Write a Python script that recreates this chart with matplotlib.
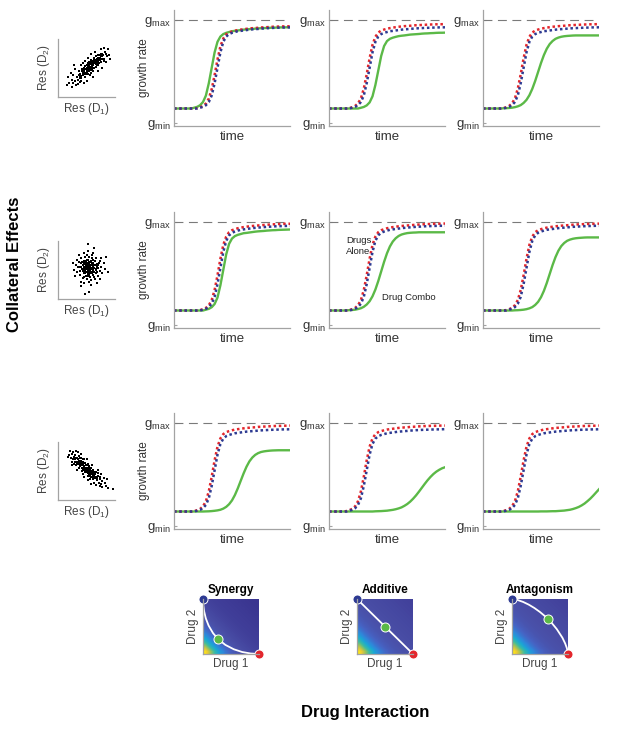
import numpy as np
import matplotlib.pyplot as plt
from matplotlib.colors import LinearSegmentedColormap

plt.rcParams['font.family'] = ['Liberation Sans', 'DejaVu Sans']
plt.rcParams['mathtext.fontset'] = 'custom'
plt.rcParams['mathtext.rm'] = 'Liberation Sans'
plt.rcParams['mathtext.it'] = 'Liberation Sans:italic'
plt.rcParams['mathtext.bf'] = 'Liberation Sans:bold'

# ---- growth curves, sampled at 41 equally spaced times (0..1) ----
time = np.arange(41) / 40

# row 1: positive collateral effects
r1c1_green = [0.14]*7 + [.148, .156, .172, .203, .266, .385, .535, .685, .788, .839, .863, .875, .883, .891, .894, .898, .902,
                         .906, .909, .911, .913, .916, .918, .920, .921, .923, .924, .925, .926, .927, .928, .928, .929, .930]
r1c1_blue = [0.14]*9 + [.148, .156, .172, .203, .266, .385, .535, .685, .788, .839, .863, .875, .883, .891, .894, .898, .902,
                        .906, .909, .911, .913, .916, .918, .920, .921, .923, .924, .925, .926, .927, .928, .928]
r1c1_red = [0.14]*8 + [.144, .152, .164, .188, .236, .328, .464, .616, .744, .820, .860, .878, .888, .896, .902, .906, .910,
                       .914, .918, .920, .922, .924, .927, .929, .930, .932, .934, .935, .936, .937, .938, .938, .939]
r1c2_green = [0.14]*11 + [.147, .155, .170, .199, .258, .369, .510, .651, .747, .795, .817, .828, .836, .843, .847, .850,
                          .854, .858, .860, .862, .864, .867, .869, .870, .872, .873, .875, .876, .876, .877]
r1_blue = [0.14]*8 + [.148, .156, .172, .203, .266, .385, .535, .685, .788, .839, .863, .875, .883, .891, .894, .898, .902,
                      .906, .909, .911, .913, .916, .918, .920, .921, .923, .924, .925, .926, .927, .928, .928, .929]
r1_red = [0.14]*7 + [.144, .152, .165, .189, .238, .333, .472, .628, .759, .837, .878, .897, .907, .915, .921, .926, .930,
                     .934, .937, .940, .942, .944, .947, .949, .950, .952, .953, .955, .956, .957, .958, .958, .959, .960]
r1c3_green = [0.14]*7 + [.142, .143, .145, .148, .153, .161, .173, .194, .224, .269, .331, .408, .495, .582, .659, .721,
                         .766, .796, .817, .829, .837, .842, .845, .847, .849] + [0.85]*9

# row 2: no collateral effects
r2c1_green = [0.14]*11 + [.148, .156, .172, .203, .266, .385, .535, .685, .788, .839, .863, .875, .883, .891, .894, .898,
                          .902, .906, .909, .911, .913, .916, .918, .920, .921, .923, .924, .925, .926, .927]
r2c1_blue = [0.14]*10 + [.148, .157, .173, .206, .272, .396, .553, .709, .817, .870, .895, .907, .916, .924, .928, .932,
                         .936, .940, .943, .945, .948, .950, .953, .954, .956, .958, .959, .960, .961, .962, .963]
r2c1_red = [0.14]*9 + [.144, .153, .165, .191, .241, .339, .482, .643, .778, .858, .901, .920, .930, .939, .945, .950,
                       .954, .958, .961, .964, .966, .968, .971, .973, .975, .977, .978, .980, .981, .982, .982, .983]
r2c2_green = [0.14]*6 + [.142, .143, .145, .148, .154, .162, .176, .198, .230, .278, .344, .427, .520, .613, .696, .762,
                         .810, .842, .864, .878, .886, .892, .895, .897, .898] + [0.90]*10
r2c2_blue = [0.14]*8 + [.148, .157, .173, .206, .272, .396, .553, .709, .817, .870, .895, .907, .916, .924, .928, .932,
                        .936, .940, .943, .945, .948, .950, .953, .954, .956, .958, .959, .960, .961, .962, .963, .963, .964]
r2c2_red = [0.14]*7 + [.144, .153, .165, .191, .241, .339, .482, .643, .778, .858, .901, .920, .930, .939, .945, .950,
                       .954, .958, .961, .964, .966, .968, .971, .973, .975, .977, .978, .980, .981, .982, .982, .983,
                       .984, .985]
r2c3_green = [0.14]*11 + [.142, .143, .145, .148, .153, .161, .173, .194, .224, .269, .331, .408, .495, .582, .659, .721,
                          .766, .796, .817, .829, .837, .842, .845, .847, .849] + [0.85]*5
r2c3_blue = [0.14]*9 + [.148, .157, .173, .206, .272, .396, .553, .709, .817, .870, .895, .907, .916, .924, .928, .932,
                        .936, .940, .943, .945, .948, .950, .953, .954, .956, .958, .959, .960, .961, .962, .963, .963]
r2c3_red = [0.14]*8 + [.144, .153, .165, .191, .241, .339, .482, .643, .778, .858, .901, .920, .930, .939, .945, .950,
                       .954, .958, .961, .964, .966, .968, .971, .973, .975, .977, .978, .980, .981, .982, .982, .983, .984]

# row 3: negative collateral effects
r3c1_green = [0.14]*11 + [.141, .142, .144, .147, .151, .157, .168, .185, .211, .248, .300, .365, .438, .510, .575, .627,
                          .664, .690, .707, .718, .724, .728, .731, .733, .734] + [0.735]*5
r3_blue = [0.14]*8 + [.148, .156, .172, .204, .268, .388, .540, .692, .796, .848, .872, .884, .892, .900, .904, .908, .912,
                      .916, .918, .921, .923, .926, .928, .930, .931, .933, .934, .935, .936, .937, .938, .938, .939]
r3_red = [0.14]*7 + [.144, .153, .165, .190, .240, .336, .478, .637, .770, .850, .892, .911, .921, .929, .936, .940, .944,
                     .948, .952, .954, .957, .958, .962, .963, .965, .967, .968, .970, .971, .972, .972, .973, .974, .975]
r3c2_green = [0.14]*16 + [.142, .143, .144, .146, .148, .152, .156, .162, .170, .180, .195, .213, .236, .264, .296, .332,
                          .370, .408, .444, .476, .504, .527, .545, .560, .570]
r3c2_blue = [0.14]*7 + [.148, .156, .172, .204, .268, .388, .540, .692, .796, .848, .872, .884, .892, .900, .904, .908,
                        .912, .916, .918, .921, .923, .926, .928, .930, .931, .933, .934, .935, .936, .937, .938, .938,
                        .939, .940]
r3c2_red = [0.14]*6 + [.144, .153, .165, .190, .240, .336, .478, .637, .770, .850, .892, .911, .921, .929, .936, .940, .944,
                       .948, .952, .954, .957, .958, .962, .963, .965, .967, .968, .970, .971, .972, .972, .973, .974,
                       .975, .975]
r3c3_green = [0.14]*20 + [.141, .141, .141, .142, .143, .143, .145, .147, .149, .153, .157, .164, .173, .184, .199, .217,
                          .240, .265, .294, .325, .356]

# ---- resistance scatter clouds (Res D1, Res D2), axis units 0..100 ----
pos_x = [30, 33, 35, 38, 40, 42, 44, 45, 47, 48, 50, 50, 52, 53, 54, 55, 56, 57, 58, 58, 60, 60, 61, 62, 63, 64, 65, 66,
         67, 68, 69, 70, 71, 72, 74, 75, 76, 78, 80, 82, 36, 39, 41, 43, 46, 49, 51, 52, 54, 55, 56, 57, 59, 59, 61, 62,
         63, 64, 66, 67, 68, 70, 72, 73, 74, 77, 79, 81, 84, 86, 15, 18, 20, 22, 25, 27, 24, 30, 32, 28, 45, 50, 40, 47,
         62, 70, 78, 85, 88, 90, 92, 75, 65, 58, 80, 52, 44, 35, 38, 26,
         45, 48, 51, 53, 55, 57, 59, 60, 62, 64, 66, 68, 70, 72, 50, 46, 43, 41, 38, 36, 54, 58, 63, 65, 69, 75, 78, 47,
         42, 56]
pos_y = [28, 35, 30, 40, 33, 45, 38, 50, 42, 35, 47, 55, 40, 52, 60, 45, 50, 57, 42, 64, 52, 47, 60, 55, 68, 50, 62, 57,
         70, 60, 65, 55, 73, 63, 68, 60, 75, 70, 66, 78, 45, 36, 28, 42, 46, 40, 50, 58, 44, 55, 38, 48, 58, 54, 45, 62,
         58, 65, 52, 63, 56, 68, 58, 72, 64, 66, 72, 62, 75, 70, 20, 35, 25, 42, 18, 38, 30, 48, 20, 55, 25, 28, 55, 62,
         35, 45, 50, 60, 82, 72, 65, 82, 78, 75, 85, 68, 58, 22, 26, 24,
         44, 48, 44, 49, 52, 52, 50, 56, 58, 60, 62, 66, 62, 66, 42, 40, 39, 36, 33, 38, 50, 60, 62, 58, 58, 70, 74, 53,
         48, 46]
zero_x = [35, 38, 40, 42, 44, 45, 46, 47, 48, 49, 50, 50, 51, 52, 53, 53, 54, 55, 55, 56, 57, 57, 58, 59, 60, 60, 61, 62,
          63, 64, 65, 66, 67, 68, 70, 72, 74, 36, 39, 41, 43, 44, 46, 47, 48, 49, 51, 52, 53, 54, 56, 57, 58, 59, 61, 62,
          63, 64, 66, 67, 69, 71, 73, 75, 38, 42, 45, 50, 55, 60, 65, 70, 33, 31, 34, 40, 46, 58, 62, 52, 45, 76, 78, 80,
          82, 28, 30, 68, 74, 47, 55, 40, 85, 88, 26, 36, 53, 64,
          50, 52, 54, 56, 58, 48, 46, 44, 55, 53, 57, 60, 62, 49, 51, 45, 59, 62, 64, 47, 43, 41, 66, 68, 55, 50, 58, 52,
          61, 48]
zero_y = [55, 48, 62, 52, 58, 45, 66, 50, 56, 40, 62, 52, 47, 58, 68, 43, 54, 60, 49, 38, 64, 55, 46, 70, 58, 51, 42, 62,
          54, 47, 66, 58, 50, 60, 54, 62, 48, 63, 42, 70, 36, 48, 60, 72, 44, 65, 35, 50, 62, 72, 44, 58, 33, 62, 67, 48,
          38, 58, 44, 70, 46, 58, 66, 55, 56, 64, 38, 76, 30, 75, 35, 40, 46, 58, 68, 30, 28, 24, 80, 82, 80, 70, 45, 62,
          52, 50, 40, 28, 35, 9, 12, 22, 72, 47, 62, 76, 94, 88,
          55, 54, 57, 52, 54, 52, 55, 52, 64, 46, 50, 62, 56, 58, 60, 62, 45, 52, 54, 46, 58, 55, 52, 56, 42, 68, 66, 40,
          58, 62]
neg_x = [20, 22, 25, 26, 28, 30, 30, 32, 33, 35, 36, 37, 38, 40, 40, 41, 42, 43, 44, 45, 46, 47, 48, 49, 50, 50, 52, 53,
         54, 55, 56, 57, 58, 59, 60, 62, 63, 64, 66, 68, 70, 72, 74, 76, 78, 24, 27, 29, 31, 34, 36, 38, 39, 42, 43, 45,
         46, 48, 49, 51, 52, 53, 55, 56, 58, 60, 61, 62, 65, 67, 69, 71, 73, 75, 80, 18, 21, 24, 32, 34, 40, 44, 50, 56,
         60, 64, 70, 74, 82, 84, 86, 88, 97, 78, 66, 35, 28, 46, 58, 52,
         35, 37, 39, 41, 43, 45, 47, 49, 51, 53, 55, 57, 59, 61, 63, 34, 36, 40, 44, 46, 48, 50, 52, 54, 56, 58, 62, 65,
         42, 30]
neg_y = [78, 72, 80, 70, 75, 66, 78, 72, 62, 70, 76, 64, 58, 68, 72, 60, 66, 54, 62, 70, 58, 52, 64, 56, 48, 60, 54, 46,
         58, 50, 42, 54, 46, 40, 50, 44, 38, 48, 40, 34, 42, 30, 36, 28, 32, 66, 82, 70, 60, 66, 56, 72, 62, 50, 70, 56,
         64, 48, 60, 52, 42, 62, 56, 48, 56, 44, 52, 36, 44, 48, 38, 46, 40, 44, 38, 74, 84, 60, 84, 52, 80, 44, 70, 36,
         60, 30, 52, 24, 30, 24, 36, 20, 19, 22, 26, 82, 62, 40, 28, 34,
         66, 68, 64, 62, 60, 58, 56, 52, 50, 52, 46, 44, 46, 42, 42, 72, 62, 64, 66, 52, 54, 56, 48, 44, 50, 40, 40, 38,
         56, 70]

# ---- drug interaction maps: level along Drug1 + Drug2 (steps of 0.1) ----
synergy_level = [1.0, 0.75, 0.54, 0.38, 0.26, 0.18, 0.13, 0.10, 0.085, 0.07, 0.06, 0.05, 0.04, 0.035, 0.03, 0.025,
                 0.02, 0.015, 0.01, 0.005, 0.0]
additive_level = [1.0, 0.78, 0.58, 0.42, 0.30, 0.22, 0.17, 0.14, 0.12, 0.11, 0.10, 0.095, 0.09, 0.085, 0.08, 0.075,
                  0.07, 0.065, 0.06, 0.055, 0.05]
antagonism_level = additive_level

synergy_iso_x = [0, 0.005, 0.02, 0.05, 0.1, 0.18, 0.27, 0.4, 0.55, 0.7, 0.85, 1.0]
synergy_iso_y = [1.0, 0.889, 0.776, 0.649, 0.517, 0.378, 0.27, 0.165, 0.086, 0.036, 0.009, 0.0]
additive_iso_x = [0, 1.0]
additive_iso_y = [1.0, 0]
antagonism_iso_x = [0, 0.1, 0.2, 0.3, 0.4, 0.5, 0.6, 0.7, 0.8, 0.9, 0.95, 0.98, 1.0]
antagonism_iso_y = [1.0, 0.982, 0.946, 0.897, 0.836, 0.763, 0.678, 0.576, 0.452, 0.296, 0.19, 0.106, 0.0]
combo_points = [(0.27, 0.27), (0.5, 0.5), (0.64, 0.64)]
interaction_names = ['Synergy', 'Additive', 'Antagonism']

GREEN = '#5bb947'
RED = '#e3262c'
BLUE = '#2d3a92'
GREY = '#a3a3a3'

W, H = 617, 729
fig = plt.figure(figsize=(W / 100, H / 100), dpi=100)


def px_axes(left, top, w, h):
    return fig.add_axes([left / W, 1 - (top + h) / H, w / W, h / H])


def clean(ax):
    for s in ('top', 'right'):
        ax.spines[s].set_visible(False)
    for s in ('left', 'bottom'):
        ax.spines[s].set_color(GREY)
        ax.spines[s].set_linewidth(0.9)


panels = [
    [(r1c1_green, r1c1_red, r1c1_blue), (r1c2_green, r1_red, r1_blue), (r1c3_green, r1_red, r1_blue)],
    [(r2c1_green, r2c1_red, r2c1_blue), (r2c2_green, r2c2_red, r2c2_blue), (r2c3_green, r2c3_red, r2c3_blue)],
    [(r3c1_green, r3_red, r3_blue), (r3c2_green, r3c2_red, r3c2_blue), (r3c3_green, r3_red, r3_blue)],
]
clouds = [(pos_x, pos_y), (zero_x, zero_y), (neg_x, neg_y)]
row_tops = [10, 212, 413]
col_lefts = [174, 329, 483]
scatter_tops = [39, 241, 442]

for r in range(3):
    # scatter of resistances
    sax = px_axes(58, scatter_tops[r], 57, 58)
    clean(sax)
    sx, sy = clouds[r]
    sax.plot(sx, sy, 's', color='black', markersize=2.1, markeredgewidth=0)
    sax.set_xlim(0, 100)
    sax.set_ylim(0, 100)
    sax.set_xticks([])
    sax.set_yticks([])
    sax.set_xlabel('Res (D$_1$)', fontsize=8.5, color='#444444')
    sax.set_ylabel('Res (D$_2$)', fontsize=8.5, color='#444444')
    sax.xaxis.set_label_coords(0.5, -0.07)
    sax.yaxis.set_label_coords(-0.1, 0.5)

    for c in range(3):
        green, red, blue = panels[r][c]
        ax = px_axes(col_lefts[c], row_tops[r], 116, 116)
        clean(ax)
        ax.axhline(1.0, color='#7a7a7a', lw=0.8, ls=(0, (8, 5)))
        ax.plot(time, green, color=GREEN, lw=1.7)
        ax.plot(time, red, color=RED, lw=1.8, ls=(0, (1, 1.1)), dash_capstyle='butt')
        ax.plot(time, blue, color=BLUE, lw=1.8, ls=(0, (1, 1.1)), dash_capstyle='butt')
        ax.set_xlim(0, 1)
        ax.set_ylim(-0.03, 1.097)
        ax.set_xticks([])
        ax.set_yticks([0, 1])
        ax.set_yticklabels([r'$\mathrm{g}_{\mathrm{min}}$', r'$\mathrm{g}_{\mathrm{max}}$'])
        ax.tick_params(axis='y', direction='in', length=2.5, width=0.8, color=GREY, pad=2,
                       labelsize=9.5, labelcolor='#333333')
        ax.set_xlabel('time', fontsize=9.5, color='#333333')
        ax.xaxis.set_label_coords(0.5, -0.045)
        if c == 0:
            ax.set_ylabel('growth rate', fontsize=8.5, color='#333333')
            ax.yaxis.set_label_coords(-0.21, 0.5)
        if r == 1 and c == 1:
            ax.text(0.15, 0.77, 'Drugs\nAlone', fontsize=6.8, color='#222222', va='center', linespacing=1.3)
            ax.text(0.46, 0.265, 'Drug Combo', fontsize=6.8, color='#222222', va='center')

# interaction maps
cmap = LinearSegmentedColormap.from_list('parula_like', [
    (0.0, '#3a3490'), (0.1, '#4a4fa7'), (0.2, '#4663c4'), (0.32, '#2f86da'), (0.45, '#1aa8d4'),
    (0.6, '#3cbba0'), (0.75, '#9cc25a'), (0.9, '#e8c838'), (1.0, '#f8e01c')])
levels = [synergy_level, additive_level, antagonism_level]
isos = [(synergy_iso_x, synergy_iso_y), (additive_iso_x, additive_iso_y), (antagonism_iso_x, antagonism_iso_y)]
idx = np.arange(11)
for k, left in enumerate([203, 357, 512]):
    hax = px_axes(left, 599, 56, 55)
    clean(hax)
    grid = np.asarray(levels[k])[np.add.outer(idx, idx)]
    hax.imshow(grid, origin='lower', extent=(0, 1, 0, 1), cmap=cmap, vmin=0, vmax=1,
               interpolation='bilinear', aspect='auto')
    hax.plot(isos[k][0], isos[k][1], color='white', lw=1.3)
    dot = dict(markersize=6.5, markeredgecolor='white', markeredgewidth=0.7, clip_on=False)
    hax.plot([0], [1], 'o', color=BLUE, **dot)
    hax.plot([1], [0], 'o', color=RED, **dot)
    hax.plot([combo_points[k][0]], [combo_points[k][1]], 'o', color=GREEN, **dot)
    hax.set_xlim(0, 1)
    hax.set_ylim(0, 1)
    hax.set_xticks([])
    hax.set_yticks([])
    hax.set_title(interaction_names[k], fontsize=8.5, fontweight='bold', pad=4)
    hax.set_xlabel('Drug 1', fontsize=8.5, color='#444444')
    hax.set_ylabel('Drug 2', fontsize=8.5, color='#444444')
    hax.xaxis.set_label_coords(0.5, -0.08)
    hax.yaxis.set_label_coords(-0.08, 0.5)

fig.text(15 / W, 1 - 264 / H, 'Collateral Effects', rotation=90, fontsize=12, fontweight='bold',
         ha='center', va='center')
fig.text(365 / W, 1 - 713 / H, 'Drug Interaction', fontsize=12, fontweight='bold', ha='center', va='center')

fig.savefig('out.png', dpi=100)
